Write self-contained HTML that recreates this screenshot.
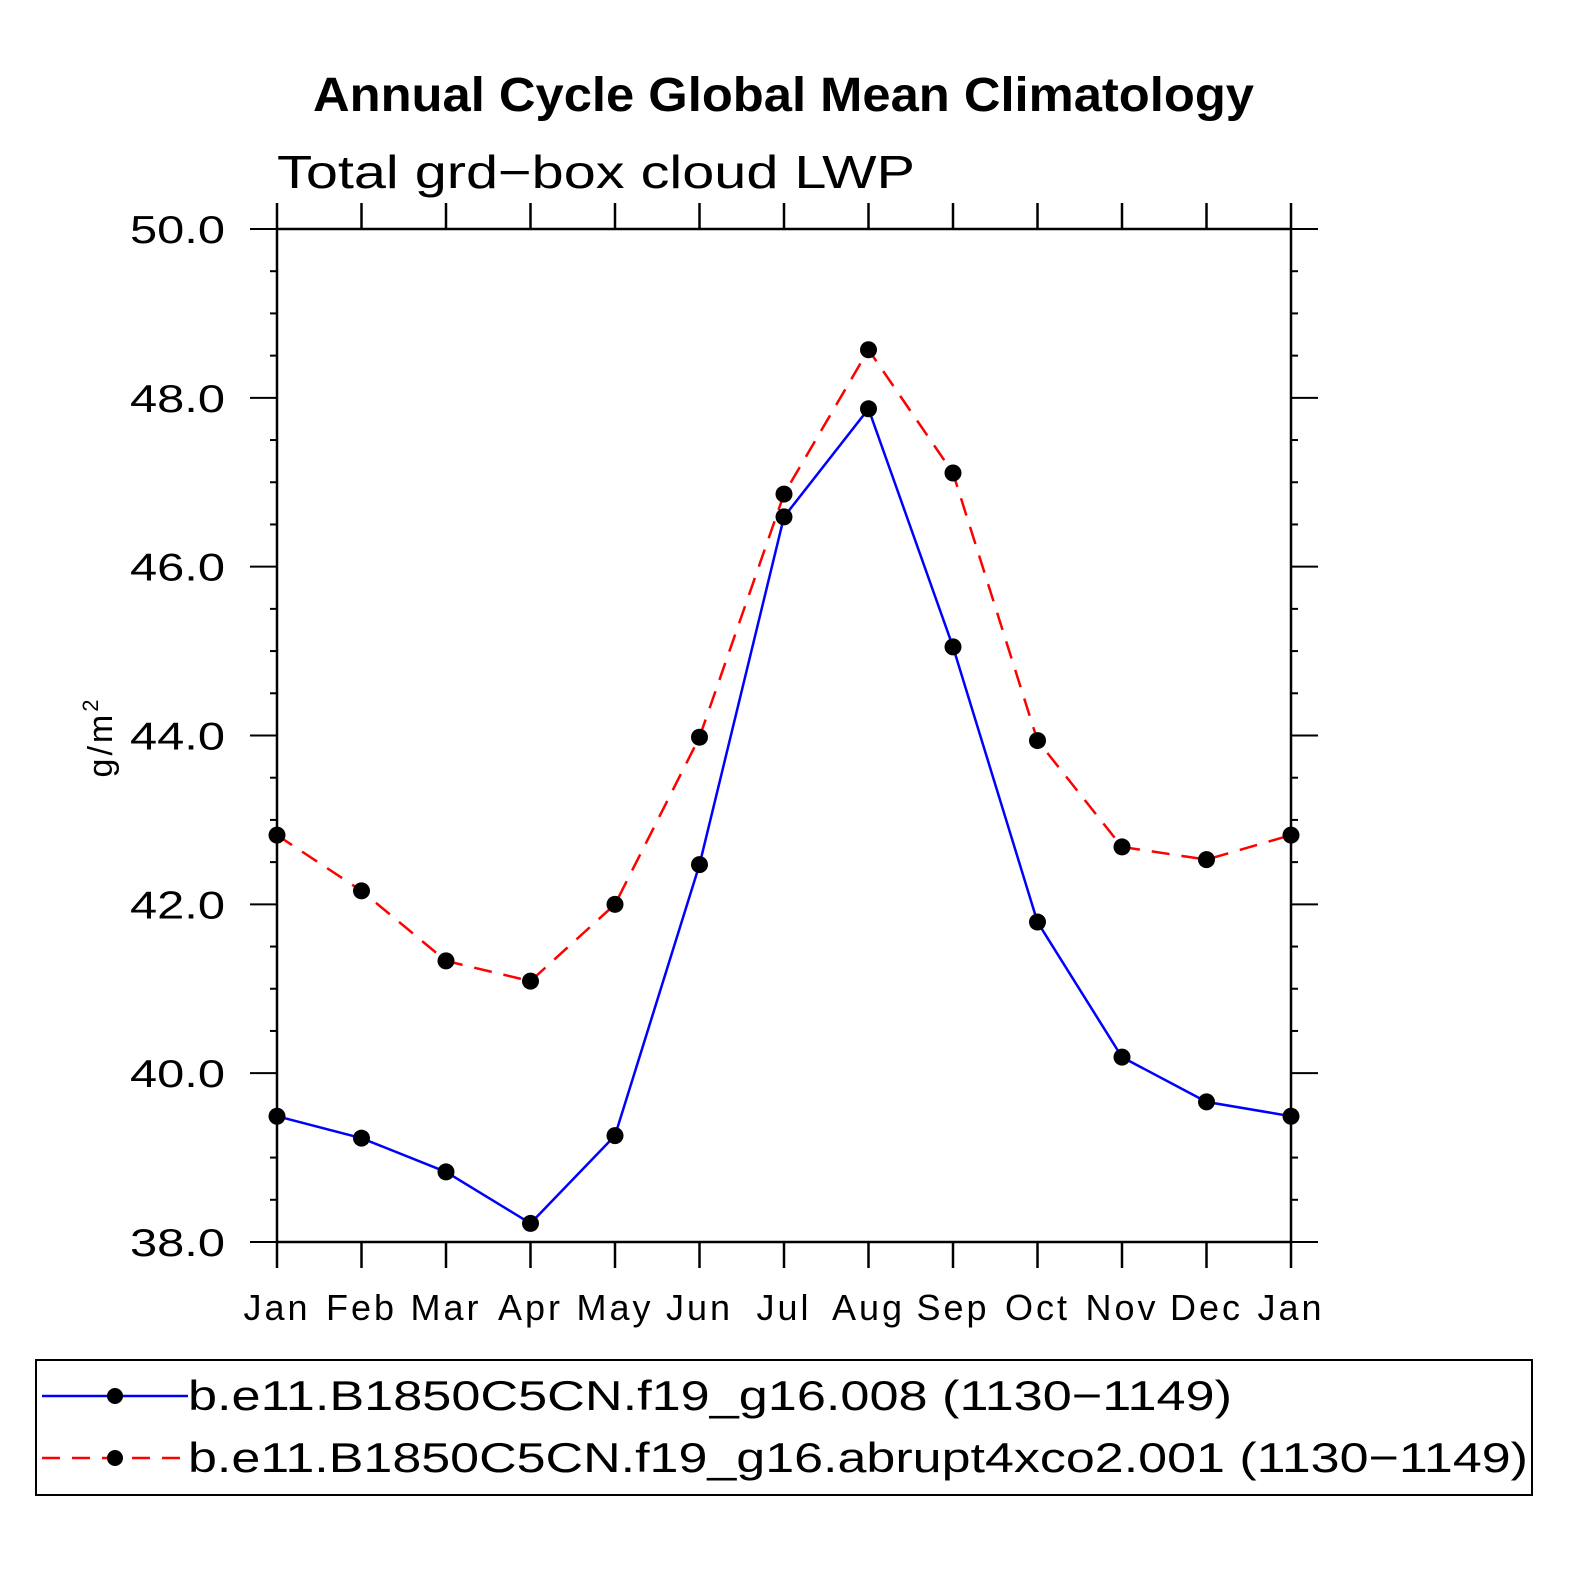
<!DOCTYPE html>
<html><head><meta charset="utf-8"><style>
body{margin:0;background:#fff}
svg text{font-family:"Liberation Sans",sans-serif}
</style></head><body>
<svg id="chart" width="1574" height="1574" xmlns="http://www.w3.org/2000/svg">
<rect width="1574" height="1574" fill="#fff"/>
<text x="313" y="111" font-size="48" font-weight="bold" textLength="941" lengthAdjust="spacingAndGlyphs">Annual Cycle Global Mean Climatology</text>
<text x="277" y="188" font-size="46" textLength="638" lengthAdjust="spacingAndGlyphs">Total grd−box cloud LWP</text>
<text transform="translate(112,737) rotate(-90)" font-size="34" text-anchor="middle" letter-spacing="3">g/m<tspan font-size="22" dy="-14">2</tspan></text>
<g id="axes"></g>
<g id="series"></g>
<rect x="36" y="1360" width="1496" height="135" fill="none" stroke="#000" stroke-width="2"/>
<line x1="42" y1="1396" x2="188" y2="1396" stroke="#0000ff" stroke-width="2.5"/>
<circle cx="115" cy="1396" r="8"/>
<text x="188" y="1410" font-size="42" textLength="1044" lengthAdjust="spacingAndGlyphs">b.e11.B1850C5CN.f19_g16.008 (1130−1149)</text>
<line x1="42" y1="1458" x2="188" y2="1458" stroke="#ff0000" stroke-width="2.5" stroke-dasharray="18,12"/>
<circle cx="115" cy="1458" r="8"/>
<text x="188" y="1472" font-size="42" textLength="1340" lengthAdjust="spacingAndGlyphs">b.e11.B1850C5CN.f19_g16.abrupt4xco2.001 (1130−1149)</text>
</svg>
<script>
const months=["Jan","Feb","Mar","Apr","May","Jun","Jul","Aug","Sep","Oct","Nov","Dec","Jan"];
const controlValues=[39.49,39.23,38.83,38.22,39.26,42.47,46.59,47.87,45.05,41.79,40.19,39.66,39.49];
const co2Values=[42.82,42.16,41.33,41.09,42.00,43.98,46.86,48.57,47.11,43.94,42.68,42.53,42.82];
const yTicks=[38,40,42,44,46,48,50];
const NS="http://www.w3.org/2000/svg";
const x0=277,x1=1291,y0=1242,y1=229,ymin=38,ymax=50;
const xs=i=>x0+(x1-x0)*i/(months.length-1);
const ys=v=>y0-(v-ymin)/(ymax-ymin)*(y0-y1);
const axes=document.getElementById('axes'),series=document.getElementById('series');
function mk(t,a,p){const e=document.createElementNS(NS,t);for(const k in a)e.setAttribute(k,a[k]);p.appendChild(e);return e;}
const frame=mk('rect',{x:x0,y:y1,width:x1-x0,height:y0-y1,fill:'none',stroke:'#000','stroke-width':2.5},axes);


months.forEach((m,i)=>{
  const x=xs(i);
  mk('line',{x1:x,x2:x,y1:y0,y2:y0+26,stroke:'#000','stroke-width':2.5},axes);
  mk('line',{x1:x,x2:x,y1:y1,y2:y1-26,stroke:'#000','stroke-width':2.5},axes);
  const t=mk('text',{x:x,y:1320,'font-size':36,'text-anchor':'middle','letter-spacing':3},axes);
  t.textContent=m;
  
  
});
for(let v=ymin;v<=ymax+1e-9;v+=0.5){
  const y=ys(v),major=Math.abs(v-Math.round(v/2)*2)<1e-9;
  const L=major?27:7;
  mk('line',{x1:x0-L,x2:x0,y1:y,y2:y,stroke:'#000','stroke-width':2},axes);
  mk('line',{x1:x1,x2:x1+L,y1:y,y2:y,stroke:'#000','stroke-width':2},axes);
}
yTicks.forEach(v=>{
  const t=mk('text',{x:130,y:ys(v)+14,'font-size':39,textLength:95,lengthAdjust:'spacingAndGlyphs'},axes);
  t.textContent=v.toFixed(1);
  
  
});
function draw(vals,color,dash,name){
  const pts=vals.map((v,i)=>xs(i)+','+ys(v)).join(' ');
  const l=mk('polyline',{points:pts,fill:'none',stroke:color,'stroke-width':2.5},series);
  if(dash)l.setAttribute('stroke-dasharray',dash);
  
  
  vals.forEach((v,i)=>{
    const c=mk('circle',{cx:xs(i),cy:ys(v),r:8.5,fill:'#000'},series);
    
    
  });
}
draw(co2Values,'#ff0000','18,12','abrupt4xco2');
draw(controlValues,'#0000ff',null,'control');
</script>
</body></html>
